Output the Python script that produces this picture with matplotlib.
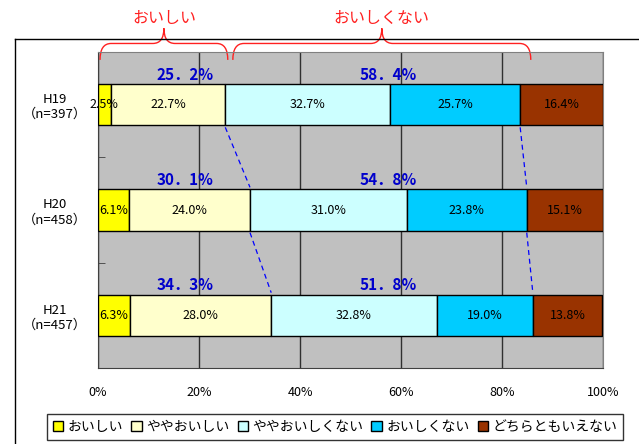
import matplotlib
matplotlib.use("Agg")
import matplotlib.pyplot as plt
from matplotlib.patches import Patch, PathPatch
from matplotlib.path import Path
from matplotlib.lines import Line2D
import matplotlib.transforms as mtransforms

plt.rcParams['font.family'] = ['Noto Sans CJK JP', 'DejaVu Sans']

years = ["H19\n（n=397）", "H20\n（n=458）", "H21\n（n=457）"]
categories = ["おいしい", "ややおいしい", "ややおいしくない", "おいしくない", "どちらともいえない"]
colors = ["#FFFF00", "#FFFFCC", "#CCFFFF", "#00CCFF", "#993300"]
values = [
    [2.5, 6.1, 6.3],
    [22.7, 24.0, 28.0],
    [32.7, 31.0, 32.8],
    [25.7, 23.8, 19.0],
    [16.4, 15.1, 13.8],
]
good_totals = ["25．2%", "30．1%", "34．3%"]
bad_totals = ["58．4%", "54．8%", "51．8%"]

fig = plt.figure(figsize=(6.39, 4.44), dpi=100)
ax = fig.add_axes([98 / 639, 1 - 368 / 444, 505 / 639, 316 / 444])
ax.set_facecolor("#C0C0C0")

ypos = list(range(len(years)))
bar_h = 0.39
left = [0.0] * len(years)
bounds = []
for vals, col, name in zip(values, colors, categories):
    ax.barh(ypos, vals, left=left, height=bar_h, color=col, edgecolor="black",
            linewidth=1, label=name, zorder=3)
    for y, v, l in zip(ypos, vals, left):
        ax.text(l + v / 2, y, f"{v:.1f}%", ha="center", va="center", fontsize=9, zorder=4)
    left = [l + v for l, v in zip(left, vals)]
    bounds.append(list(left))

# dashed connectors between bars
for b in (bounds[1], bounds[3]):
    for i in range(len(years) - 1):
        ax.plot([b[i], b[i + 1]], [i + bar_h / 2 + 0.02, i + 1 - bar_h / 2 - 0.02],
                color="#0000FF", linestyle=(0, (4, 3)), linewidth=0.9, zorder=2)

# blue totals
for i in ypos:
    ax.text(17.2, i - 0.285, good_totals[i], ha="center", va="center", color="#0000CC",
            fontsize=11, fontweight="bold", zorder=4)
    ax.text(57.4, i - 0.285, bad_totals[i], ha="center", va="center", color="#0000CC",
            fontsize=11, fontweight="bold", zorder=4)

ax.set_xlim(0, 100)
ax.set_ylim(2.5, -0.5)
ax.set_xticks([0, 20, 40, 60, 80, 100])
ax.set_xticklabels(["0%", "20%", "40%", "60%", "80%", "100%"], fontsize=9)
ax.tick_params(axis="x", length=0, pad=13)
ax.set_yticks(ypos)
ax.set_yticklabels(years, fontsize=9.5)
for t in ax.get_yticklabels():
    t.set_multialignment("center")
ax.tick_params(axis="y", length=0, pad=8)
ax.set_yticks([0.5, 1.5], minor=True)
ax.tick_params(axis="y", which="minor", direction="in", length=5, color="#404040")
ax.grid(axis="x", color="#303030", linewidth=1, zorder=1)
ax.set_axisbelow(True)
for s in ax.spines.values():
    s.set_color("#808080")
ax.spines["left"].set_color("#404040")
ax.spines["bottom"].set_color("#404040")

# red braces above the plot
trans = mtransforms.blended_transform_factory(ax.transData, ax.transAxes)


def brace(x0, x1, label):
    yb, yh, yt = 0.975, 1.027, 1.075
    xm = (x0 + x1) / 2
    r = 2.2
    verts = [(x0, yb), (x0, yh), (x0 + r, yh),
             (xm - r, yh),
             (xm, yh), (xm, yt),
             (xm, yh), (xm + r, yh),
             (x1 - r, yh),
             (x1, yh), (x1, yb)]
    codes = [Path.MOVETO, Path.CURVE3, Path.CURVE3,
             Path.LINETO,
             Path.CURVE3, Path.CURVE3,
             Path.CURVE3, Path.CURVE3,
             Path.LINETO,
             Path.CURVE3, Path.CURVE3]
    ax.add_patch(PathPatch(Path(verts, codes), transform=trans, fill=False,
                           edgecolor="#FF2020", linewidth=1, clip_on=False))
    ax.text(xm, 1.105, label, transform=trans, ha="center", va="center",
            color="#FF2020", fontsize=11.5)


brace(0.4, 25.7, "おいしい")
brace(26.7, 85.7, "おいしくない")

# outer frame lines
fig.add_artist(Line2D([15 / 639, 15 / 639], [0, 1 - 39 / 444], color="black", linewidth=1))
fig.add_artist(Line2D([15 / 639, 1], [1 - 39 / 444, 1 - 39 / 444], color="black", linewidth=1))

handles = [Patch(facecolor=c, edgecolor="black", label=n) for c, n in zip(colors, categories)]
leg = fig.legend(handles=handles, loc="center", bbox_to_anchor=(335 / 639, 1 - 427 / 444),
                 ncol=5, fontsize=10, frameon=True, fancybox=False, edgecolor="black",
                 handlelength=0.75, handleheight=0.75, handletextpad=0.3, columnspacing=0.6,
                 borderpad=0.4, borderaxespad=0)
leg.get_frame().set_linewidth(1)

fig.savefig("out.png", dpi=100)
